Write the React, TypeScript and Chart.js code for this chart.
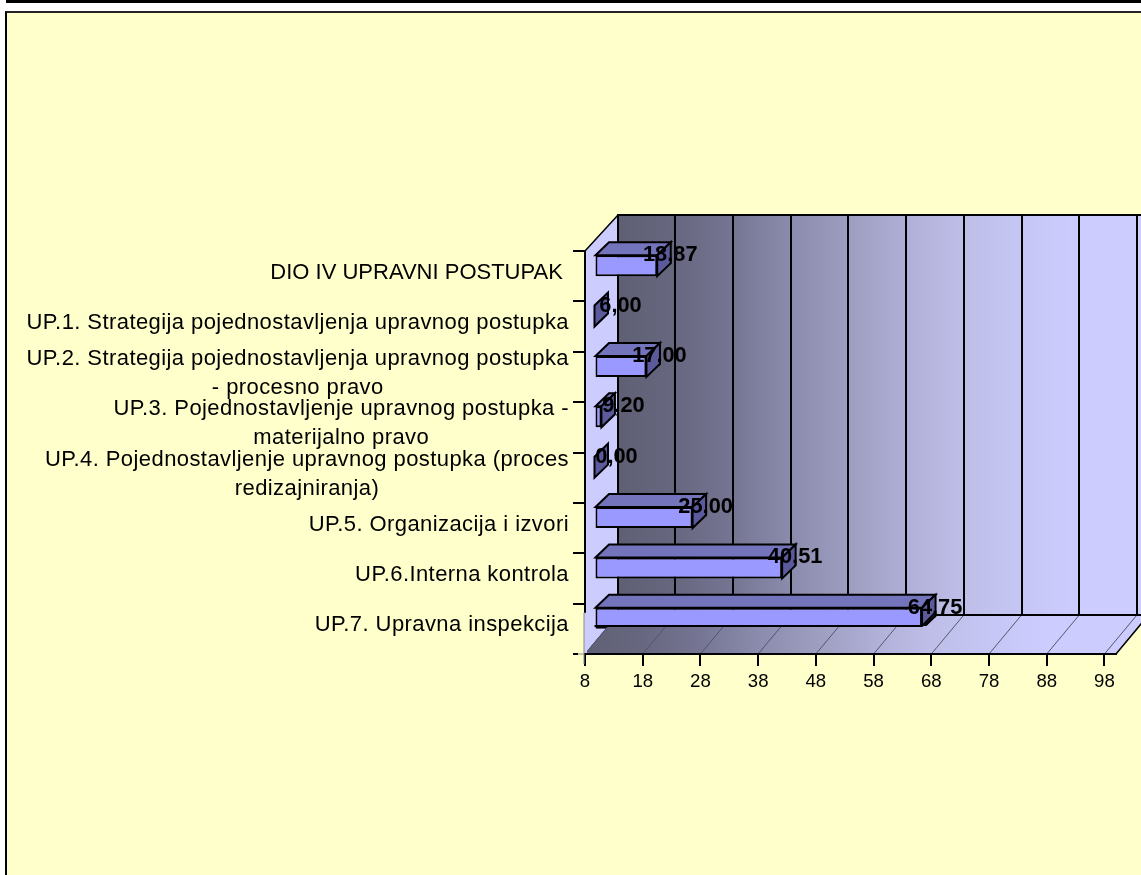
import React, { useEffect, useRef } from "react";
import { Chart, registerables } from "chart.js";

Chart.register(...registerables);

const categories: (string | string[])[] = [
  "DIO IV UPRAVNI POSTUPAK ",
  "UP.1. Strategija pojednostavljenja upravnog postupka",
  ["UP.2. Strategija pojednostavljenja upravnog postupka", "- procesno pravo"],
  ["UP.3. Pojednostavljenje upravnog postupka -", "materijalno pravo"],
  ["UP.4. Pojednostavljenje upravnog postupka (proces", "redizajniranja)"],
  "UP.5. Organizacija i izvori",
  "UP.6.Interna kontrola",
  "UP.7. Upravna inspekcija",
];
const values = [18.87, 6.0, 17.0, 9.2, 0.0, 25.0, 40.51, 64.75];
const xTickValues = [8, 18, 28, 38, 48, 58, 68, 78, 88, 98];
const AXIS_MIN = 8;
const AXIS_MAX = 100;

const FONT = '"Liberation Sans", Arial, sans-serif';
const WALL_DX = 32.5;
const WALL_TOP_DY = -36;
const WALL_BOTTOM_DY = -39;
const BAR_DX = 9.5;
const BAR_DY = -10.5;
const FACE_DX = 13.5;
const FACE_DY = -13;

const gradientStops: [number, string][] = [
  [0, "#5f5f74"],
  [0.1, "#66667f"],
  [0.22, "#767694"],
  [0.33, "#8c8cae"],
  [0.44, "#9e9ec0"],
  [0.55, "#b0b0d8"],
  [0.65, "#bebee8"],
  [0.76, "#c6c6f5"],
  [0.87, "#ccccff"],
  [1, "#ccccff"],
];

function wallGradient(ctx: CanvasRenderingContext2D, x0: number, x1: number) {
  const g = ctx.createLinearGradient(x0, 0, x1, 0);
  gradientStops.forEach(([p, c]) => g.addColorStop(p, c));
  return g;
}

function drawFloor(chart: any) {
  const { ctx, chartArea: a, scales } = chart;
  ctx.save();
  ctx.fillStyle = wallGradient(ctx, a.left, a.right);
  ctx.beginPath();
  ctx.moveTo(a.left, a.bottom);
  ctx.lineTo(a.right, a.bottom);
  ctx.lineTo(a.right + WALL_DX, a.bottom + WALL_BOTTOM_DY);
  ctx.lineTo(a.left + WALL_DX, a.bottom + WALL_BOTTOM_DY);
  ctx.closePath();
  ctx.fill();
  ctx.strokeStyle = "#55556a";
  ctx.lineWidth = 1;
  for (const v of xTickValues) {
    const x = scales.x.getPixelForValue(v);
    ctx.beginPath();
    ctx.moveTo(x, a.bottom);
    ctx.lineTo(x + WALL_DX, a.bottom + WALL_BOTTOM_DY);
    ctx.stroke();
  }
  ctx.restore();
}

const scene3d = {
  id: "scene3d",
  beforeDraw(chart: any) {
    const { ctx, chartArea: a, scales } = chart;
    const wallL = Math.round(a.left + WALL_DX);
    const wallR = a.right + WALL_DX;
    const wallT = a.top + WALL_TOP_DY;
    const wallB = a.bottom + WALL_BOTTOM_DY;
    ctx.save();
    ctx.fillStyle = wallGradient(ctx, wallL, wallR);
    ctx.fillRect(wallL, wallT, wallR - wallL, wallB - wallT);
    ctx.fillStyle = "#ccccff";
    ctx.beginPath();
    ctx.moveTo(a.left, a.top);
    ctx.lineTo(wallL, wallT);
    ctx.lineTo(wallL, wallB);
    ctx.lineTo(a.left, a.bottom);
    ctx.closePath();
    ctx.fill();
    drawFloor(chart);
    ctx.strokeStyle = "#000";
    ctx.lineWidth = 2;
    for (const v of xTickValues) {
      const x = Math.round(scales.x.getPixelForValue(v) + WALL_DX);
      ctx.beginPath();
      ctx.moveTo(x, wallT);
      ctx.lineTo(x, wallB);
      ctx.stroke();
    }
    ctx.beginPath();
    ctx.moveTo(wallR, wallT);
    ctx.lineTo(wallL, wallT);
    ctx.lineTo(wallL, wallB);
    ctx.lineTo(wallR, wallB);
    ctx.stroke();
    ctx.lineWidth = 1.5;
    ctx.beginPath();
    ctx.moveTo(a.left, a.top);
    ctx.lineTo(wallL, wallT);
    ctx.moveTo(a.right, a.bottom);
    ctx.lineTo(a.right + WALL_DX, wallB);
    ctx.stroke();
    ctx.restore();
  },
  beforeDatasetDraw(chart: any) {
    const { ctx } = chart;
    const meta = chart.getDatasetMeta(0);
    ctx.save();
    ctx.translate(BAR_DX, BAR_DY);
    ctx.lineWidth = 2;
    ctx.strokeStyle = "#000";
    ctx.lineJoin = "miter";
    meta.data.forEach((bar: any) => {
      const x0 = bar.base;
      const xE = bar.x;
      const yT = bar.y - bar.height / 2;
      const yB = bar.y + bar.height / 2;
      if (xE > x0) {
        ctx.fillStyle = "#7474bd";
        ctx.beginPath();
        ctx.moveTo(x0, yT);
        ctx.lineTo(x0 + FACE_DX, yT + FACE_DY);
        ctx.lineTo(xE + FACE_DX, yT + FACE_DY);
        ctx.lineTo(xE, yT);
        ctx.closePath();
        ctx.fill();
        ctx.stroke();
      }
      ctx.fillStyle = "#5a5a9c";
      ctx.beginPath();
      ctx.moveTo(xE, yT);
      ctx.lineTo(xE + FACE_DX, yT + FACE_DY);
      ctx.lineTo(xE + FACE_DX, yB + FACE_DY);
      ctx.lineTo(xE, yB);
      ctx.closePath();
      ctx.fill();
      ctx.stroke();
    });
  },
  afterDatasetDraw(chart: any) {
    const { ctx, chartArea: a } = chart;
    const meta = chart.getDatasetMeta(0);
    ctx.restore();
    // The floor hides the foot of the foremost bar.
    const last = meta.data[meta.data.length - 1];
    const footY = a.bottom - 28;
    ctx.save();
    ctx.beginPath();
    ctx.rect(a.left + 1, footY, last.x + BAR_DX + FACE_DX - a.left, a.bottom - footY - 1);
    ctx.clip();
    drawFloor(chart);
    ctx.restore();
    ctx.save();
    ctx.strokeStyle = "#000";
    ctx.lineWidth = 2;
    ctx.beginPath();
    ctx.moveTo(last.base + BAR_DX, footY - 1);
    ctx.lineTo(last.base + BAR_DX, footY);
    ctx.lineTo(last.x + BAR_DX, footY);
    ctx.lineTo(last.x + BAR_DX + 13, footY - 13);
    ctx.stroke();
    ctx.restore();
  },
  afterDatasetsDraw(chart: any) {
    const { ctx } = chart;
    const meta = chart.getDatasetMeta(0);
    ctx.save();
    ctx.fillStyle = "#000";
    ctx.font = `bold 21.8px ${FONT}`;
    ctx.textAlign = "center";
    ctx.textBaseline = "middle";
    meta.data.forEach((bar: any, i: number) => {
      const v = values[i];
      const text = v.toFixed(2).replace(".", ",");
      const clamped = v < AXIS_MIN;
      const shift = text.length === 4 ? 22 + (clamped ? v * 0.67 : 0) : 13;
      ctx.fillText(text, bar.x + BAR_DX + shift, bar.y + BAR_DY - bar.height / 2);
    });
    ctx.restore();
  },
  afterDraw(chart: any) {
    const { ctx, scales, chartArea: a } = chart;
    const y = scales.y;
    ctx.save();
    // Patch round the lowest category, where the axis line gives way to a thin grey one.
    const patchTop = y.getPixelForValue(7) - 16;
    ctx.fillStyle = "#ffffcc";
    ctx.fillRect(a.left - 7, patchTop, 6, a.bottom - patchTop + 2);
    ctx.fillStyle = "#ccccff";
    ctx.fillRect(a.left - 1, patchTop, 3, a.bottom - patchTop - 1);
    ctx.fillStyle = "#8a8a8a";
    ctx.fillRect(a.left - 1.5, patchTop, 1, a.bottom - patchTop + 10);
    ctx.fillRect(a.left - 7, a.bottom - 0.5, 6, 1);
    ctx.fillStyle = "#000";
    ctx.font = `22px ${FONT}`;
    ctx.textBaseline = "middle";
    const right = 569;
    const lineH = 29;
    (chart.data.labels as (string | string[])[]).forEach((lab, i) => {
      const lines = Array.isArray(lab) ? lab : [lab];
      const spacing = (l: string) => (l === l.toUpperCase() ? "0px" : "0.42px");
      const widest = Math.max(
        ...lines.map((l) => {
          (ctx as any).letterSpacing = spacing(l);
          return ctx.measureText(l).width;
        })
      );
      const cx = right - widest / 2;
      const cy = y.getPixelForValue(i) - 3.5;
      lines.forEach((l, k) => {
        (ctx as any).letterSpacing = spacing(l);
        ctx.textAlign = "center";
        ctx.fillText(l, cx, cy + (k - (lines.length - 1) / 2) * lineH);
      });
    });
    ctx.restore();
  },
};

export default function App() {
  const ref = useRef<HTMLCanvasElement>(null);
  useEffect(() => {
    document.body.style.margin = "0";
    document.body.style.background = "#fff";
    const chart = new Chart(ref.current as HTMLCanvasElement, {
      type: "bar",
      data: {
        labels: categories as any,
        datasets: [
          {
            data: values.map((v) => Math.max(v, AXIS_MIN)),
            base: AXIS_MIN,
            backgroundColor: "#9999ff",
            borderColor: "#000",
            borderWidth: 2,
            borderSkipped: false,
            barThickness: 21,
            inflateAmount: 0,
            clip: false,
          } as any,
        ],
      },
      options: {
        indexAxis: "y",
        responsive: false,
        animation: false,
        layout: { padding: { left: 0, right: 25, top: 251, bottom: 0 } },
        plugins: { legend: { display: false }, tooltip: { enabled: false }, title: { display: false } },
        scales: {
          x: {
            type: "linear",
            min: AXIS_MIN,
            max: AXIS_MAX,
            afterBuildTicks: (axis: any) => {
              axis.ticks = xTickValues.map((value) => ({ value }));
            },
            afterFit: (axis: any) => {
              axis.height = 221;
            },
            grid: { drawOnChartArea: false, color: "#000", tickColor: "#000", tickLength: 12, lineWidth: 2 },
            border: { color: "#000", width: 2 },
            ticks: {
              autoSkip: false,
              maxRotation: 0,
              color: "#000",
              padding: 5,
              font: { family: FONT, size: 18.6 },
              callback: (v: any) => String(v),
            },
          },
          y: {
            type: "category",
            afterFit: (axis: any) => {
              axis.width = 585;
            },
            grid: { offset: true, drawOnChartArea: false, color: "#000", tickColor: "#000", tickLength: 12, lineWidth: 2 },
            border: { color: "#000", width: 2 },
            ticks: { display: false },
          },
        },
      },
      plugins: [scene3d],
    } as any);
    return () => chart.destroy();
  }, []);
  return (
    <div style={{ position: "fixed", left: 0, top: 0, width: 1141, height: 875, background: "#fff", overflow: "hidden" }}>
      <div style={{ position: "absolute", left: 6, top: 0, right: 0, height: 2.5, background: "#000" }} />
      <div
        style={{
          position: "absolute",
          left: 5,
          top: 11,
          right: 0,
          bottom: 0,
          background: "#ffffcc",
          borderLeft: "2px solid #000",
          borderTop: "2px solid #222",
        }}
      />
      <canvas ref={ref} width={1141} height={875} style={{ position: "absolute", left: 0, top: 0, display: "block" }} />
    </div>
  );
}
